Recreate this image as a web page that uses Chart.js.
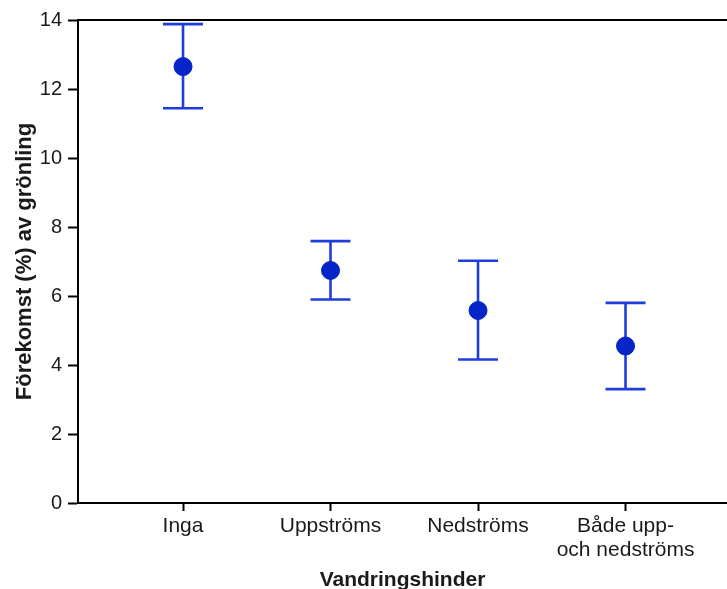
<!DOCTYPE html>
<html><head><meta charset="utf-8">
<script src="https://cdn.jsdelivr.net/npm/chart.js@4/dist/chart.umd.min.js"></script>
<style>html,body{margin:0;padding:0;background:#fff;}canvas{display:block;}</style>
</head><body>
<canvas id="c" width="727" height="589"></canvas>
<script>
const categories = ["Inga", "Uppströms", "Nedströms", ["Både upp-", "och nedströms"]];
const means = [12.65, 6.74, 5.58, 4.55];
const upper = [13.88, 7.59, 7.02, 5.80];
const lower = [11.44, 5.90, 4.16, 3.30];
const yTicks = [0, 2, 4, 6, 8, 10, 12, 14];

const pointColor = '#0525c8';
const lineColor = '#1e3ddc';

const errorBars = {
  id: 'errorBars',
  beforeDatasetsDraw(chart) {
    const {ctx, scales: {x, y}} = chart;
    ctx.save();
    ctx.strokeStyle = lineColor;
    ctx.lineWidth = 2.6;
    const cap = 20;
    means.forEach((m, i) => {
      const px = x.getPixelForValue(i);
      const pu = y.getPixelForValue(upper[i]);
      const pl = y.getPixelForValue(lower[i]);
      ctx.beginPath();
      ctx.moveTo(px, pu); ctx.lineTo(px, pl);
      ctx.moveTo(px - cap, pu); ctx.lineTo(px + cap, pu);
      ctx.moveTo(px - cap, pl); ctx.lineTo(px + cap, pl);
      ctx.stroke();
    });
    ctx.restore();
  }
};

const family = '"Liberation Sans", Arial, sans-serif';
const tickFont = {family: family, size: 21, lineHeight: 1.15};

new Chart(document.getElementById('c'), {
  type: 'scatter',
  data: {
    datasets: [{
      data: means.map((m, i) => ({x: i, y: m})),
      backgroundColor: pointColor,
      borderColor: pointColor,
      pointRadius: 9,
      pointHoverRadius: 9
    }]
  },
  plugins: [errorBars],
  options: {
    responsive: false,
    animation: false,
    layout: {autoPadding: false, padding: {top: 20, right: 0, left: 0, bottom: 0}},
    plugins: {legend: {display: false}, tooltip: {enabled: false}},
    scales: {
      x: {
        type: 'linear',
        min: -0.712,
        max: 3.688,
        afterBuildTicks(s) { s.ticks = [0, 1, 2, 3].map(v => ({value: v})); },
        afterFit(s) { s.height = 86; s.paddingRight = 0; s.paddingLeft = 0; },
        grid: {drawOnChartArea: false, drawTicks: true, tickLength: 8, tickColor: '#000', tickWidth: 2},
        border: {display: true, color: '#000', width: 2},
        ticks: {
          color: '#1a1a1a', font: tickFont, padding: 3, maxRotation: 0, autoSkip: false,
          callback: (v) => categories[v]
        },
        title: {display: true, text: 'Vandringshinder', color: '#1a1a1a',
          font: {family: family, size: 21, weight: 'bold', lineHeight: 1.2}, padding: {top: 0, bottom: -4}}
      },
      x2: {
        type: 'linear', position: 'top', min: -0.712, max: 3.688,
        afterFit(s) { s.height = 0; s.paddingRight = 0; s.paddingLeft = 0; },
        grid: {display: false, drawTicks: false},
        border: {display: true, color: '#000', width: 2},
        ticks: {display: false}
      },
      y: {
        min: 0, max: 14,
        afterBuildTicks(s) { s.ticks = yTicks.map(v => ({value: v})); },
        afterFit(s) { s.width = 78; },
        grid: {drawOnChartArea: false, drawTicks: true, tickLength: 10, tickColor: '#000', tickWidth: 2},
        border: {display: true, color: '#000', width: 2},
        ticks: {color: '#1a1a1a', font: {family: family, size: 20}, padding: 6},
        title: {display: true, text: 'Förekomst (%) av grönling', color: '#1a1a1a',
          font: {family: family, size: 22, weight: 'bold', lineHeight: 1.2}, padding: {top: 12, bottom: 0}}
      }
    }
  }
});
</script>
</body></html>
